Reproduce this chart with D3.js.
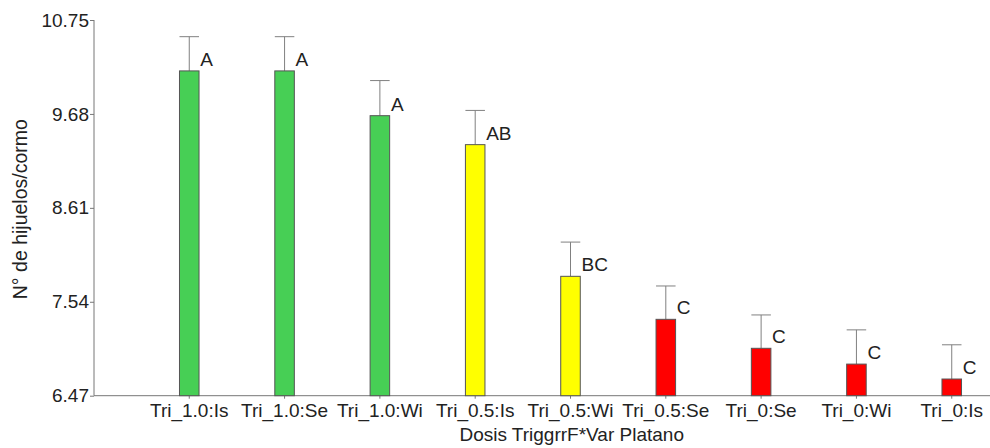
<html>
<head>
<script src="https://cdn.jsdelivr.net/npm/d3@7"></script>
<style>
  body { margin: 0; background: #fff; }
  text { font-family: "Liberation Sans", Arial, sans-serif; fill: #222; }
</style>
</head>
<body>
<div id="chart"></div>
<script>
// data
var categories = ["Tri_1.0:Is", "Tri_1.0:Se", "Tri_1.0:Wi", "Tri_0.5:Is", "Tri_0.5:Wi",
                  "Tri_0.5:Se", "Tri_0:Se", "Tri_0:Wi", "Tri_0:Is"]
var means = [10.17, 10.17, 9.66, 9.33, 7.83, 7.34, 7.01, 6.83, 6.66]
var errors = [0.39, 0.39, 0.40, 0.39, 0.39, 0.38, 0.38, 0.39, 0.39]
var letters = ["A", "A", "A", "AB", "BC", "C", "C", "C", "C"]
var yTicks = [6.47, 7.54, 8.61, 9.68, 10.75]

// bar colour follows the significance letters
var colors = { "A": "#47cf55", "AB": "#ffff00", "BC": "#ffff00", "C": "#ff0000" }

var width = 990, height = 448
var axisX = 94, baseY = 395.7, topY = 20

var svg = d3.select("#chart").append("svg")
  .attr("width", width)
  .attr("height", height)

var x = d3.scaleBand()
  .domain(categories)
  .range([141.6, 999.4])
  .paddingInner(0.795)
  .paddingOuter(0.3975)

var y = d3.scaleLinear()
  .domain([6.47, 10.75])
  .range([baseY, topY])

// y axis
var yAxis = svg.append("g")
  .attr("transform", "translate(" + axisX + ",0)")
  .call(d3.axisLeft(y).tickValues(yTicks).tickSize(4).tickPadding(1)
    .tickFormat(function(d){ return d.toFixed(2) }))
yAxis.select(".domain").attr("stroke", "#777").attr("d", "M0," + topY + "V" + baseY)
yAxis.selectAll(".tick line").attr("stroke", "#777")
yAxis.selectAll(".tick text").style("font-size", "19px").attr("fill", "#222")

// x axis
var xAxis = svg.append("g")
  .attr("transform", "translate(0," + baseY + ")")
  .call(d3.axisBottom(x).tickSize(3).tickPadding(5))
xAxis.select(".domain").remove()
xAxis.selectAll(".tick line").attr("stroke", "#777")
xAxis.selectAll(".tick text").style("font-size", "19px").attr("fill", "#222")

svg.append("line")
  .attr("x1", axisX).attr("x2", width)
  .attr("y1", baseY).attr("y2", baseY)
  .attr("stroke", "#777")

// bars
var data = categories.map(function(c, i){
  return { cat: c, mean: means[i], err: errors[i], letter: letters[i] }
})

var bar = svg.selectAll(".bar")
  .data(data)
  .enter()
  .append("g")
  .attr("class", "bar")

bar.append("line")
  .attr("x1", function(d){ return x(d.cat) + x.bandwidth() / 2 })
  .attr("x2", function(d){ return x(d.cat) + x.bandwidth() / 2 })
  .attr("y1", function(d){ return y(d.mean) })
  .attr("y2", function(d){ return y(d.mean + d.err) })
  .attr("stroke", "#808080")

bar.append("line")
  .attr("x1", function(d){ return x(d.cat) })
  .attr("x2", function(d){ return x(d.cat) + x.bandwidth() })
  .attr("y1", function(d){ return y(d.mean + d.err) })
  .attr("y2", function(d){ return y(d.mean + d.err) })
  .attr("stroke", "#808080")

bar.append("rect")
  .attr("x", function(d){ return x(d.cat) })
  .attr("y", function(d){ return y(d.mean) })
  .attr("width", x.bandwidth())
  .attr("height", function(d){ return baseY - y(d.mean) })
  .attr("fill", function(d){ return colors[d.letter] })
  .attr("stroke", "#555")
  .attr("stroke-width", 1)

bar.append("text")
  .attr("x", function(d){ return x(d.cat) + x.bandwidth() / 2 + 11 })
  .attr("y", function(d){ return y(d.mean) - 5 })
  .style("font-size", "19px")
  .text(function(d){ return d.letter })

// axis titles
svg.append("text")
  .attr("x", 571.7)
  .attr("y", 441)
  .attr("text-anchor", "middle")
  .style("font-size", "19px")
  .text("Dosis TriggrrF*Var Platano")

svg.append("text")
  .attr("transform", "translate(27.3,209.2) rotate(-90)")
  .attr("text-anchor", "middle")
  .style("font-size", "19.5px")
  .text("N° de hijuelos/cormo")
</script>
</body>
</html>
